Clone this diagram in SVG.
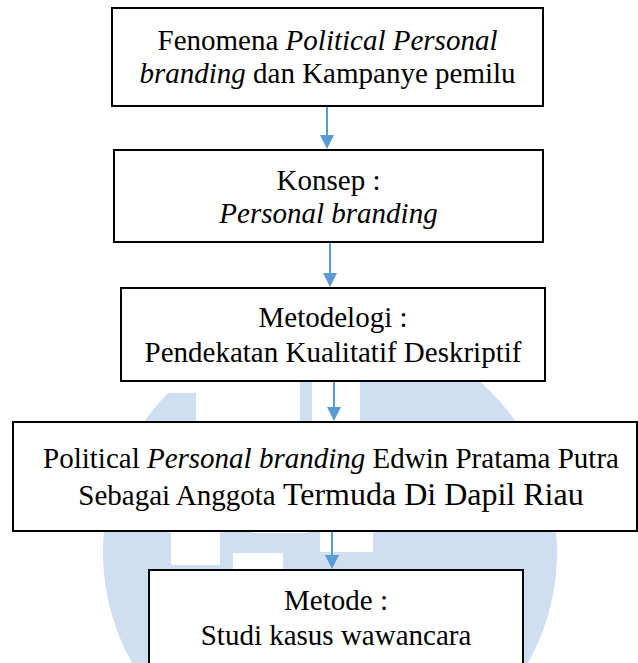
<svg xmlns="http://www.w3.org/2000/svg" width="638" height="663" viewBox="0 0 638 663">
<style>
.box{fill:#ffffff;stroke:#000000;stroke-width:2}
.t{font-family:"Liberation Serif","Times New Roman",serif;font-size:29px;fill:#000000;text-anchor:middle}
.i{font-style:italic}
.big{font-size:32px}
.conn{stroke:#5b9bd5;stroke-width:2;fill:none}
.head{fill:#5b9bd5}
.wm{fill:#cddff0}
.wh{fill:#ffffff}
</style>
<rect width="638" height="663" fill="#ffffff"/>
<g id="watermark">
<circle class="wm" cx="330" cy="552" r="227"/>
<rect class="wh" x="150" y="360" width="46" height="33"/>
<rect class="wh" x="196" y="360" width="104" height="62"/>
<rect class="wh" x="312" y="360" width="48" height="62"/>
<rect class="wh" x="171" y="530" width="49" height="35"/>
<rect class="wh" x="233" y="553" width="50" height="18"/>
<rect class="wh" x="253" y="524" width="54" height="9"/>
<rect class="wh" x="320" y="530" width="53" height="22"/>
</g>
<g id="connectors">
<line class="conn" x1="327" y1="107" x2="327" y2="136"/>
<polygon class="head" points="320,135 334,135 327,149"/>
<line class="conn" x1="330" y1="243" x2="330" y2="274"/>
<polygon class="head" points="323,273 337,273 330,287"/>
<line class="conn" x1="334" y1="382" x2="334" y2="408"/>
<polygon class="head" points="327,407 341,407 334,421"/>
<line class="conn" x1="332" y1="532" x2="332" y2="556"/>
<polygon class="head" points="325,555 339,555 332,569"/>
</g>
<g id="node1">
<rect class="box" x="112" y="8" width="431" height="98"/>
<text class="t" x="327.5" y="50">Fenomena <tspan class="i">Political Personal</tspan></text>
<text class="t" x="327.5" y="83"><tspan class="i">branding</tspan> dan Kampanye pemilu</text>
</g>
<g id="node2">
<rect class="box" x="114" y="150" width="429" height="92"/>
<text class="t" x="328.5" y="190">Konsep :</text>
<text class="t i" x="328.5" y="223">Personal branding</text>
</g>
<g id="node3">
<rect class="box" x="121" y="288" width="424" height="93"/>
<text class="t" x="333" y="327">Metodelogi :</text>
<text class="t" x="333" y="362">Pendekatan Kualitatif Deskriptif</text>
</g>
<g id="node4">
<rect class="box" x="13" y="422" width="624" height="109"/>
<text class="t" x="331" y="468">Political <tspan class="i">Personal branding</tspan> Edwin Pratama Putra</text>
<text class="t" x="331" y="504.5">Sebagai Anggota <tspan class="big">Termuda Di Dapil Riau</tspan></text>
</g>
<g id="node5">
<rect class="box" x="149" y="570" width="374" height="110"/>
<text class="t" x="336" y="610">Metode :</text>
<text class="t" x="336" y="645">Studi kasus wawancara</text>
</g>
</svg>
